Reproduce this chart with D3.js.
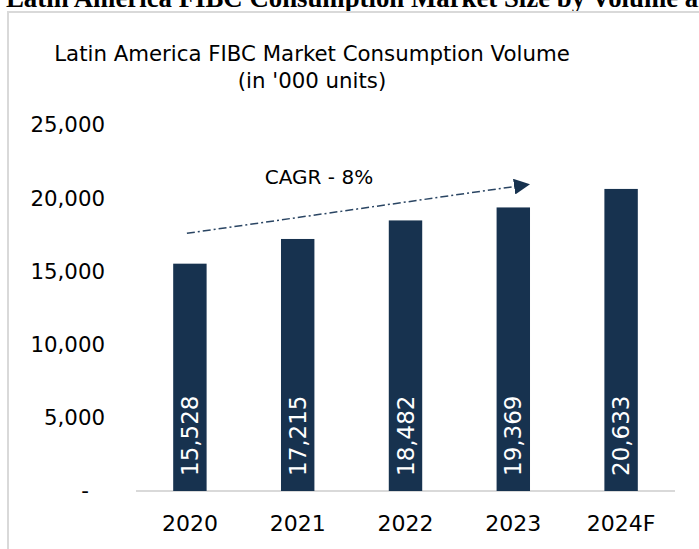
<!DOCTYPE html>
<html lang="en">
<head>
  <meta charset="UTF-8">
  <title>Latin America FIBC Market Consumption Volume</title>
  <style>
    body {
      margin: 0;
      background: #fff;
      overflow: hidden;
    }

    svg text {
      font-family: Tahoma, "DejaVu Sans", sans-serif;
      fill: #000;
    }

    .page-title {
      font-family: "Liberation Serif", "Times New Roman", serif !important;
      font-weight: bold;
      font-size: 26.8px;
    }

    .chart-title, .y-axis .tick text {
      font-size: 21.3px;
    }

    .x-axis .tick text {
      font-size: 22px;
    }

    .cagr-label {
      font-size: 20px;
    }

    .bar-label {
      font-size: 23px;
      fill: #fff !important;
    }
  </style>
</head>
<body>

<svg width="699" height="549"></svg>

<script src="https://cdn.jsdelivr.net/npm/d3@7"></script>

<script>
  const years = ['2020', '2021', '2022', '2023', '2024F'];
  const volumes = [15528, 17215, 18482, 19369, 20633];
  const yTicks = [0, 5000, 10000, 15000, 20000, 25000];
  const yTickLabels = ['-', '5,000', '10,000', '15,000', '20,000', '25,000'];
  const titleLines = ['Latin America FIBC Market Consumption Volume', "(in '000 units)"];
  const cagrText = 'CAGR - 8%';

  const svg = d3.select("svg");

  // page heading, cut off by the top of the crop
  svg.append("text")
    .attr("class", "page-title")
    .attr("x", 6)
    .attr("y", 7)
    .text("Latin America FIBC Consumption Market Size by Volume and Value");

  // chart frame
  svg.append("rect")
    .attr("x", 8)
    .attr("y", 12)
    .attr("width", 720)
    .attr("height", 560)
    .attr("fill", "none")
    .attr("stroke", "#d9d9d9")
    .attr("stroke-width", 2);

  const x = d3.scaleBand()
    .domain(years)
    .range([136, 675])
    .paddingInner(0.69)
    .paddingOuter(0.345);

  const y = d3.scaleLinear()
    .domain([0, 25000])
    .range([491, 125]);

  // title
  svg.append("g")
    .selectAll("text")
    .data(titleLines)
    .enter()
    .append("text")
    .attr("class", "chart-title")
    .attr("x", 312)
    .attr("y", (d, i) => 61 + i * 27)
    .attr("text-anchor", "middle")
    .text(d => d);

  // y axis
  const yAxis = svg.append("g")
    .attr("class", "y-axis")
    .attr("transform", "translate(105,0)")
    .call(d3.axisLeft(y)
      .tickValues(yTicks)
      .tickSize(0)
      .tickPadding(0)
      .tickFormat((d, i) => yTickLabels[i]));
  yAxis.select(".domain").remove();
  yAxis.selectAll(".tick text")
    .attr("dx", d => d === 0 ? -16 : 0);

  // baseline
  svg.append("line")
    .attr("x1", x.range()[0])
    .attr("x2", x.range()[1])
    .attr("y1", y(0))
    .attr("y2", y(0))
    .attr("stroke", "#d9d9d9")
    .attr("stroke-width", 2);

  // x axis
  const xAxis = svg.append("g")
    .attr("class", "x-axis")
    .attr("transform", "translate(0," + y(0) + ")")
    .call(d3.axisBottom(x).tickSize(0).tickPadding(24));
  xAxis.select(".domain").remove();

  // bars
  svg.append("g")
    .selectAll("rect")
    .data(volumes)
    .enter()
    .append("rect")
    .attr("x", (d, i) => x(years[i]))
    .attr("y", d => y(d))
    .attr("width", x.bandwidth())
    .attr("height", d => y(0) - y(d))
    .attr("fill", "#17324f");

  svg.append("g")
    .selectAll("text")
    .data(volumes)
    .enter()
    .append("text")
    .attr("class", "bar-label")
    .attr("transform", (d, i) =>
      "translate(" + (x(years[i]) + x.bandwidth() / 2) + "," + (y(0) - 15) + ") rotate(-90)")
    .attr("dy", "0.35em")
    .text(d => d3.format(",")(d));

  // CAGR arrow
  svg.append("defs")
    .append("marker")
    .attr("id", "arrow")
    .attr("markerUnits", "userSpaceOnUse")
    .attr("viewBox", "0 0 16 16")
    .attr("refX", 16)
    .attr("refY", 8)
    .attr("markerWidth", 16)
    .attr("markerHeight", 16)
    .attr("orient", "auto")
    .append("path")
    .attr("d", "M0,0 L16,8 L0,16 Z")
    .attr("fill", "#17324f");

  svg.append("line")
    .attr("x1", x('2020') + x.bandwidth() / 2 - 3)
    .attr("y1", y(17600))
    .attr("x2", x('2023') + x.bandwidth())
    .attr("y2", y(20950))
    .attr("stroke", "#2a4563")
    .attr("stroke-width", 1.5)
    .attr("stroke-dasharray", "8 3 2 3")
    .attr("marker-end", "url(#arrow)");

  svg.append("text")
    .attr("class", "cagr-label")
    .attr("x", 319)
    .attr("y", 184)
    .attr("text-anchor", "middle")
    .text(cagrText);
</script>
</body>
</html>
